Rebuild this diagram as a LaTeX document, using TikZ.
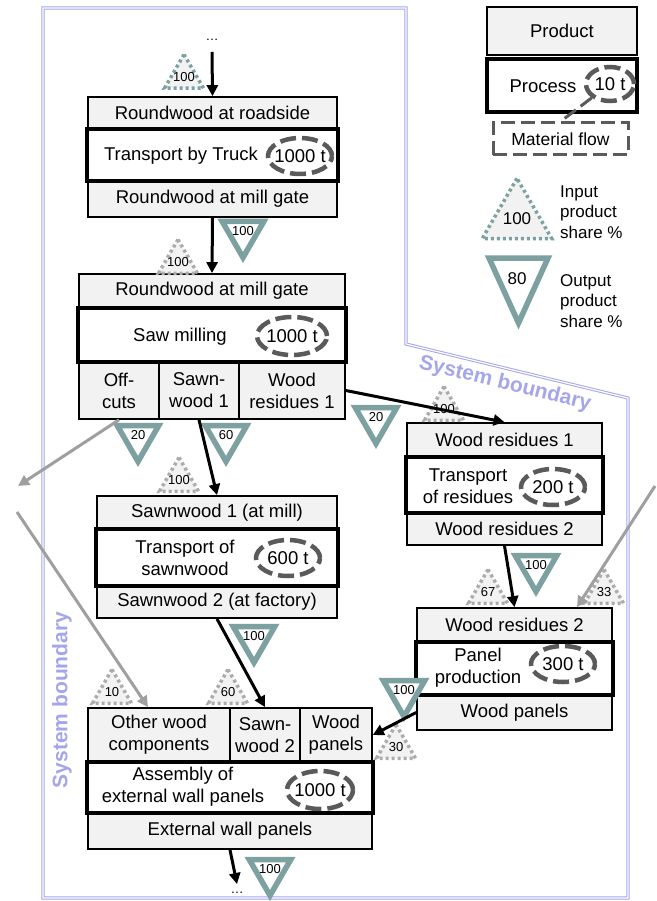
\documentclass[tikz,border=0pt]{standalone}
\usepackage{fontspec}
\setmainfont{Liberation Sans}
\usetikzlibrary{shapes.geometric, arrows.meta}

\definecolor{boundary}{RGB}{165,165,235}
\definecolor{share}{RGB}{125,160,160}
\definecolor{massgray}{RGB}{90,90,90}

\begin{document}
\begin{tikzpicture}[x=1pt, y=-1pt,
	every node/.style={font=\fontsize{18.5}{22}\selectfont, inner sep=1pt, align=center},
	product/.style={draw, line width=1.7pt, fill=gray!10},
	process/.style={draw, line width=3.2pt, fill=white},
	mass/.style={ellipse, draw=massgray, line width=4.5pt, dash pattern=on 16pt off 6pt, fill=white, inner sep=0pt, inner xsep=-5pt, minimum width=64, minimum height=36},
	sharetxt/.style={font=\fontsize{13}{13}\selectfont, inner sep=0pt},
	intri/.style={regular polygon, regular polygon sides=3, draw=gray!65, fill=gray!10, line width=3.5pt, dash pattern=on 3pt off 3pt, minimum size=45, inner sep=0pt},
	inshare/.style={intri, label={[sharetxt]center:#1}},
	outtri/.style={draw=share, line width=5.5pt, fill=white},
	outshare/.style={regular polygon, regular polygon sides=3, shape border rotate=180, outtri, minimum size=48, inner sep=0pt, label={[sharetxt, yshift=2pt]center:#1}},
	flow/.style={-{Triangle[length=11pt, width=11pt]}, line width=3pt},
	extflow/.style={flow, draw=gray!75},
	boundline/.style={draw=boundary, double=white, line width=1pt, double distance=1.2pt},
	boundtxt/.style={font=\fontsize{21}{21}\selectfont\bfseries, text=boundary}]

	\useasboundingbox (0,0) rectangle (656,901);

	% system boundary
	\draw[boundline] (43,8) -- (406,8) -- (406,344) -- (628,398) -- (628,898) -- (43,898) -- cycle;
	\node[boundtxt, rotate=90] (sbleft) at (62,700) {System boundary};
	\node[boundtxt, rotate=-13.7] (sbright) at (505,384) {System boundary};

	% legend
	\node[product, minimum width=150, minimum height=48] (lprod) at (562,31) {Product};
	\node[process, minimum width=150, minimum height=53] (lproc) at (562,85.5) {};
	\node (lproctxt) at (543,86) {Process};
	\node[mass, minimum width=48, minimum height=34] (lmass) at (610,84) {10 t};
	\node[draw=massgray, line width=3pt, dash pattern=on 14pt off 6pt, minimum width=135, minimum height=32, font=\fontsize{17.5}{20}\selectfont] (lflow) at (560.5,139) {Material flow};
	\draw[draw=massgray, line width=3pt, dash pattern=on 14pt off 6pt] (lmass) -- (lflow.north);
	\node[intri, draw=share, minimum size=72, font=\fontsize{17}{17}\selectfont] (lin) at (517,218.5) {100};
	\node[anchor=west, align=left, font=\fontsize{17}{20.5}\selectfont] (lintxt) at (559,212) {Input\\product\\share \%};
	\coordinate (lo1) at (489,258);
	\coordinate (lo2) at (548,258);
	\coordinate (lo3) at (518.5,323);
	\filldraw[outtri, line join=miter] (lo1) -- (lo2) -- (lo3) -- cycle;
	\node[font=\fontsize{17}{17}\selectfont] (lout) at (517,279) {80};
	\node[anchor=west, align=left, font=\fontsize{17}{20.5}\selectfont] (louttxt) at (559,301) {Output\\product\\share \%};

	% transport by truck
	\node[product, minimum width=249, minimum height=32] (rw1) at (212.5,113) {Roundwood at roadside};
	\node[product, minimum width=249, minimum height=36] (rw2) at (212.5,199) {Roundwood at mill gate};
	\node[process, minimum width=251, minimum height=52] (truck) at (212.5,155) {};
	\node (trucktxt) at (181,156) {Transport by Truck};
	\node[mass] (m1) at (300,156) {1000 t};

	% saw milling
	\node[product, minimum width=266, minimum height=34] (rw3) at (212,291) {Roundwood at mill gate};
	\node[product, minimum width=80, minimum height=57] (offcuts) at (119,390.5) {Off-\\cuts};
	\node[product, minimum width=80, minimum height=57] (sawn1) at (199,390.5) {Sawn-\\wood 1};
	\node[product, minimum width=106, minimum height=57] (resid1) at (292,390.5) {Wood\\residues 1};
	\node[process, minimum width=268, minimum height=54] (mill) at (212,335) {};
	\node (milltxt) at (180,337) {Saw milling};
	\node[mass, minimum width=70, minimum height=38] (m2) at (292,336) {1000 t};

	% transport of sawnwood
	\node[product, minimum width=240, minimum height=33] (sw1) at (217,512.5) {Sawnwood 1 (at mill)};
	\node[product, minimum width=240, minimum height=32] (sw2) at (217,602) {Sawnwood 2 (at factory)};
	\node[process, minimum width=242, minimum height=57] (tsawn) at (217,557.5) {};
	\node (tsawntxt) at (185,558) {Transport of\\sawnwood};
	\node[mass] (m3) at (288,558) {600 t};

	% transport of residues
	\node[product, minimum width=195, minimum height=34] (wr1) at (504.5,440) {Wood residues 1};
	\node[product, minimum width=195, minimum height=32] (wr2) at (504.5,529) {Wood residues 2};
	\node[process, minimum width=197, minimum height=56] (tres) at (504.5,485) {};
	\node (trestxt) at (468,486) {Transport\\of residues};
	\node[mass] (m5) at (553,487) {200 t};

	% panel production
	\node[product, minimum width=195, minimum height=34] (wr3) at (514.5,625) {Wood residues 2};
	\node[product, minimum width=195, minimum height=35] (wp1) at (514.5,712.5) {Wood panels};
	\node[process, minimum width=197, minimum height=53] (panel) at (514.5,668.5) {};
	\node (paneltxt) at (478,668) {Panel\\production};
	\node[mass] (m6) at (563,664) {300 t};

	% assembly
	\node[product, minimum width=142, minimum height=54] (other) at (159,735) {Other wood\\components};
	\node[product, minimum width=70, minimum height=54] (sawn2) at (265,735) {Sawn-\\wood 2};
	\node[product, minimum width=72, minimum height=54] (wp2) at (336,735) {Wood\\panels};
	\node[product, minimum width=284, minimum height=36] (ewp) at (230,831) {External wall panels};
	\node[process, minimum width=286, minimum height=51] (assembly) at (230,787.5) {};
	\node (asmtxt) at (183,787) {Assembly of\\external wall panels};
	\node[mass, minimum width=66, minimum height=38] (m4) at (320,790) {1000 t};

	% shares
	\node[inshare=100, draw=share] (i1) at (184,77) {};
	\node[inshare=100] (i2) at (178,262) {};
	\node[inshare=100] (i3) at (179,480) {};
	\node[inshare=100] (i4) at (444,409) {};
	\node[inshare=67] (i5) at (488,592) {};
	\node[inshare=33] (i6) at (604,592) {};
	\node[inshare=10] (i7) at (112,692) {};
	\node[inshare=60] (i8) at (228,692) {};
	\node[inshare=30] (i9) at (396,747) {};
	\node[outshare=100] (o1) at (243,233.5) {};
	\node[outshare=20] (o2) at (138,437.5) {};
	\node[outshare=60] (o3) at (226,437.5) {};
	\node[outshare=20] (o4) at (376,419.5) {};
	\node[outshare=100] (o5) at (254,638.5) {};
	\node[outshare=100] (o6) at (536,567.5) {};
	\node[outshare=100] (o7) at (404,692.5) {};
	\node[outshare=100] (o8) at (270,871.5) {};

	% flows
	\node[sharetxt] (dots1) at (212,40) {\dots};
	\node[sharetxt] (dots2) at (237,893) {\dots};
	\coordinate (start) at (212,52);
	\coordinate (end) at (237,884);
	\coordinate (offout) at (18,486);
	\coordinate (otherin) at (17,512);
	\coordinate (panelin) at (655,486);
	\draw[flow] (start) -- (rw1.north);
	\draw[flow] (rw2.south) -- (rw3.north);
	\draw[extflow] (offcuts.south) -- (offout);
	\draw[flow] (sawn1.south) -- (sw1.north);
	\draw[flow] (resid1.east) -- (wr1.north);
	\draw[flow] (sw2.south) -- (sawn2.north);
	\draw[flow] (wr2.south) -- (wr3.north);
	\draw[extflow] (panelin) -- ([xshift=62.5pt]wr3.north);
	\draw[extflow] (otherin) -- ([xshift=-11pt]other.north);
	\draw[flow] (wp1.west) -- (wp2.east);
	\draw[flow] (ewp.south) -- (end);
\end{tikzpicture}
\end{document}
